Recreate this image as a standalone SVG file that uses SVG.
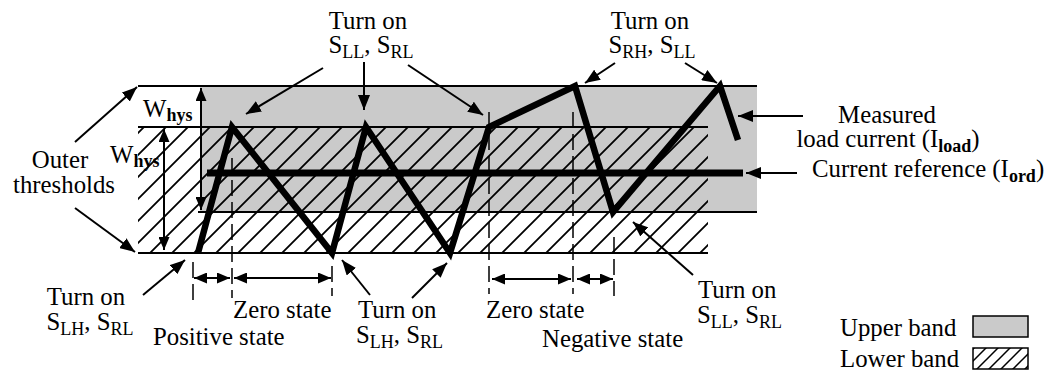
<svg xmlns="http://www.w3.org/2000/svg" width="1051" height="375" viewBox="0 0 1051 375">
<style>
text{font-family:"Liberation Serif","Times New Roman",serif;font-size:24.8px;fill:#000}
.sub{font-size:18px}
.b{font-weight:bold}
.thin{stroke:#000;stroke-width:2;fill:none}
.arr{stroke:#000;stroke-width:2;fill:none;marker-end:url(#ah)}
.darr{stroke:#000;stroke-width:2;fill:none;marker-start:url(#ahs);marker-end:url(#ahs)}
.dash{stroke:#000;stroke-width:1.5;fill:none;stroke-dasharray:16 6}
.thick{stroke:#000;fill:none;stroke-linejoin:miter;stroke-miterlimit:10}
</style>
<defs>
<pattern id="hatch" patternUnits="userSpaceOnUse" x="7" y="0" width="22" height="22">
<path d="M-2,24 L24,-2 M-2,2 L2,-2 M20,24 L24,20" stroke="#000" stroke-width="1.8"/>
</pattern>
<pattern id="hatchS" patternUnits="userSpaceOnUse" x="2" y="0" width="12" height="12">
<path d="M-2,14 L14,-2 M-2,2 L2,-2 M10,14 L14,10" stroke="#000" stroke-width="1.5"/>
</pattern>
<marker id="ah" viewBox="0 0 15 12" refX="15" refY="6" markerWidth="15" markerHeight="12" markerUnits="userSpaceOnUse" orient="auto">
<path d="M0,0 L15,6 L0,12 z" fill="#000"/>
</marker>
<marker id="ahs" viewBox="0 0 13 11" refX="13" refY="5.5" markerWidth="13" markerHeight="11" markerUnits="userSpaceOnUse" orient="auto-start-reverse">
<path d="M0,0 L13,5.5 L0,11 z" fill="#000"/>
</marker>
</defs>
<rect width="1051" height="375" fill="#fff"/>

<g id="bands">
<rect x="200" y="86" width="557" height="126" fill="#cacaca"/>
<rect x="138" y="127" width="570" height="126" fill="url(#hatch)"/>
<line class="thin" x1="138" y1="86" x2="757" y2="86"/>
<line class="thin" x1="138" y1="127" x2="708" y2="127"/>
<line class="thin" x1="198" y1="212" x2="757" y2="212"/>
<line class="thin" x1="138" y1="253" x2="708" y2="253"/>
</g>

<g id="markers">
<line class="dash" x1="193" y1="262" x2="193" y2="300"/>
<line class="dash" x1="232" y1="158" x2="232" y2="298"/>
<line class="dash" x1="332" y1="266" x2="332" y2="296"/>
<line class="dash" x1="489" y1="112" x2="489" y2="294"/>
<line class="dash" x1="573" y1="112" x2="573" y2="294"/>
<line class="dash" x1="614" y1="237" x2="614" y2="296"/>
</g>

<g id="connectors">
<line class="darr" x1="201" y1="88" x2="201" y2="210"/>
<line class="darr" x1="164" y1="129" x2="164" y2="250"/>
<line class="arr" x1="75" y1="142" x2="137" y2="87"/>
<line class="arr" x1="75" y1="208" x2="135" y2="252"/>
<line class="arr" x1="323" y1="68" x2="246" y2="114"/>
<line class="arr" x1="364" y1="62" x2="364" y2="110"/>
<line class="arr" x1="408" y1="65" x2="483" y2="115"/>
<line class="arr" x1="615" y1="63" x2="585" y2="83"/>
<line class="arr" x1="685" y1="63" x2="717" y2="83"/>
<line class="arr" x1="803" y1="116" x2="738" y2="116"/>
<line class="arr" x1="797" y1="173" x2="746" y2="173"/>
<line class="arr" x1="143" y1="295" x2="185" y2="260"/>
<line class="arr" x1="370" y1="295" x2="342" y2="260"/>
<line class="arr" x1="412" y1="298" x2="447" y2="263"/>
<line class="arr" x1="693" y1="275" x2="633" y2="222"/>
<line class="darr" x1="194" y1="278" x2="230" y2="278"/>
<line class="darr" x1="234" y1="278" x2="331" y2="278"/>
<line class="darr" x1="492" y1="279" x2="571" y2="279"/>
<line class="darr" x1="577" y1="279" x2="613" y2="279"/>
</g>

<g id="reference-line">
<line class="thick" x1="207" y1="173" x2="743" y2="173" stroke-width="7"/>
</g>
<g id="load-current">
<polyline class="thick" stroke-width="6.5" points="198,253 232,127 332,253 366,127 450,253 489,127 575,86 613,212 720,86 738,140"/>
</g>

<g id="label-outer">
<text x="60" y="168" text-anchor="middle">Outer</text>
<text x="64" y="193" text-anchor="middle">thresholds</text>
</g>
<g id="label-whys-upper">
<text x="143" y="117">W<tspan class="sub b" dy="4">hys</tspan></text>
</g>
<g id="label-whys-lower">
<text x="110" y="163">W<tspan class="sub b" dy="4">hys</tspan></text>
</g>
<g id="label-top-center">
<text x="368" y="29" text-anchor="middle">Turn on</text>
<text x="371" y="53" text-anchor="middle">S<tspan class="sub" dy="5">LL</tspan><tspan dy="-5">, S</tspan><tspan class="sub" dy="5">RL</tspan></text>
</g>
<g id="label-top-right">
<text x="650" y="29" text-anchor="middle">Turn on</text>
<text x="652" y="53" text-anchor="middle">S<tspan class="sub" dy="5">RH</tspan><tspan dy="-5">, S</tspan><tspan class="sub" dy="5">LL</tspan></text>
</g>
<g id="label-measured">
<text x="887" y="123" text-anchor="middle">Measured</text>
<text x="888" y="147" text-anchor="middle">load current (I<tspan class="sub b" dy="5">load</tspan><tspan dy="-5">)</tspan></text>
</g>
<g id="label-reference">
<text x="812" y="177">Current reference (I<tspan class="sub b" dy="5">ord</tspan><tspan dy="-5">)</tspan></text>
</g>
<g id="label-bottom-left">
<text x="86" y="305" text-anchor="middle">Turn on</text>
<text x="90" y="330" text-anchor="middle">S<tspan class="sub" dy="5">LH</tspan><tspan dy="-5">, S</tspan><tspan class="sub" dy="5">RL</tspan></text>
</g>
<g id="label-positive">
<text x="153" y="345">Positive state</text>
</g>
<g id="label-zero1">
<text x="233" y="318">Zero state</text>
</g>
<g id="label-bottom-mid">
<text x="358" y="318">Turn on</text>
<text x="356" y="343">S<tspan class="sub" dy="5">LH</tspan><tspan dy="-5">, S</tspan><tspan class="sub" dy="5">RL</tspan></text>
</g>
<g id="label-zero2">
<text x="486" y="318">Zero state</text>
</g>
<g id="label-negative">
<text x="542" y="347">Negative state</text>
</g>
<g id="label-bottom-right">
<text x="698" y="298">Turn on</text>
<text x="697" y="323">S<tspan class="sub" dy="5">LL</tspan><tspan dy="-5">, S</tspan><tspan class="sub" dy="5">RL</tspan></text>
</g>
<g id="legend">
<text x="840" y="336">Upper band</text>
<rect x="973" y="316" width="55" height="21" fill="#cacaca" stroke="#000" stroke-width="1.5"/>
<text x="840" y="367">Lower band</text>
<rect x="973" y="348" width="55" height="21" fill="url(#hatchS)" stroke="#000" stroke-width="1.5"/>
</g>
</svg>
